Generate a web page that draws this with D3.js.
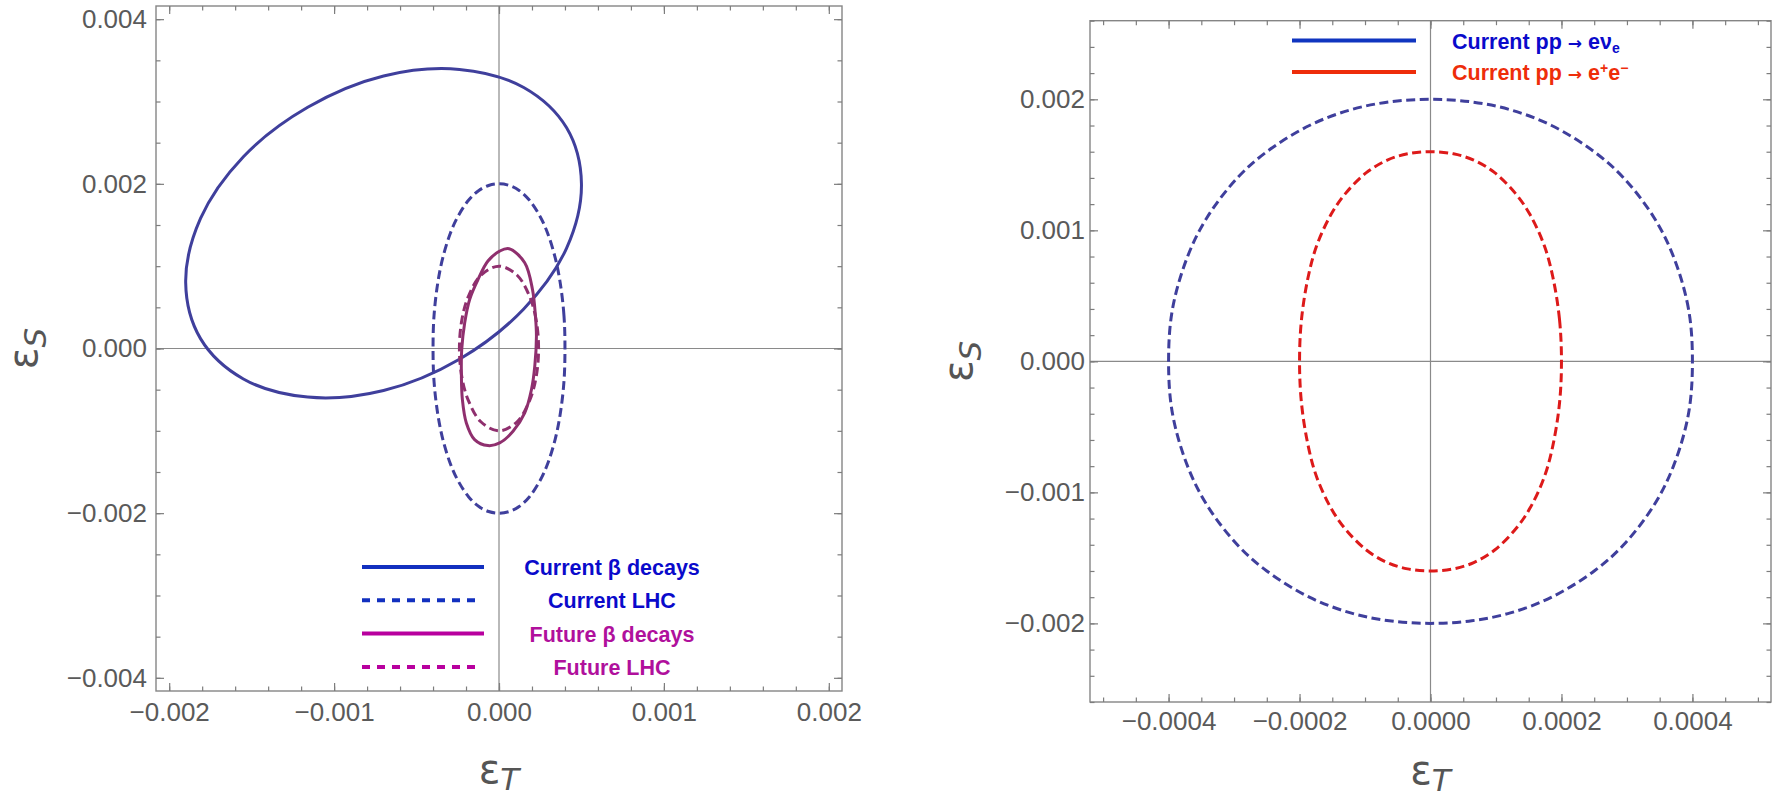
<!DOCTYPE html>
<html>
<head>
<meta charset="utf-8">
<script src="https://cdn.jsdelivr.net/npm/d3@7"></script>
<style>
  body { margin: 0; background: #fff; }
  svg { display: block; }
  .tick text { font-family: "Liberation Sans", Arial, sans-serif; font-size: 26px; fill: #5a5a5a; }
</style>
</head>
<body>
<script>
const W = 1781, H = 801;

// tick labels
const leftXTicks = [-0.002, -0.001, 0, 0.001, 0.002];
const leftYTicks = [-0.004, -0.002, 0, 0.002, 0.004];
const rightXTicks = [-0.0004, -0.0002, 0, 0.0002, 0.0004];
const rightYTicks = [-0.002, -0.001, 0, 0.001, 0.002];

// contours [eps_T, eps_S]
const betaCurrent = [
  [0.0005, 0.0020], [0.00041, 0.00268], [0.00015, 0.00317], [-0.00024, 0.00339],
  [-0.0007, 0.00331], [-0.00116, 0.00293], [-0.00155, 0.00233], [-0.00181, 0.00158],
  [-0.0019, 0.0008], [-0.00181, 0.00012], [-0.00155, -0.00037], [-0.00116, -0.00059],
  [-0.0007, -0.00051], [-0.00024, -0.00013], [0.00015, 0.00048], [0.00041, 0.00122]
];
const lhcCurrent = [
  [0.0004, 0], [0.000394, 0.0004], [0.000371, 0.0008], [0.000341, 0.0011],
  [0.000295, 0.0014], [0.00025, 0.0016], [0.000185, 0.0018], [0.000122, 0.00192],
  [0.000063, 0.00198], [0, 0.002],
  [-0.000063, 0.00198], [-0.000122, 0.00192], [-0.000185, 0.0018], [-0.00025, 0.0016],
  [-0.000295, 0.0014], [-0.000341, 0.0011], [-0.000371, 0.0008], [-0.000394, 0.0004],
  [-0.0004, 0],
  [-0.000394, -0.0004], [-0.000371, -0.0008], [-0.000341, -0.0011], [-0.000295, -0.0014],
  [-0.00025, -0.0016], [-0.000185, -0.0018], [-0.000122, -0.00192], [-0.000063, -0.00198],
  [0, -0.002],
  [0.000063, -0.00198], [0.000122, -0.00192], [0.000185, -0.0018], [0.00025, -0.0016],
  [0.000295, -0.0014], [0.000341, -0.0011], [0.000371, -0.0008], [0.000394, -0.0004]
];
const betaFuture = [
  [0.000061, 0.001212], [0.000156, 0.001042], [0.000203, 0.000717], [0.000221, 0.000393],
  [0.000227, 0.00015], [0.000217, -0.000215], [0.000197, -0.000498], [0.000156, -0.000782],
  [0.000085, -0.001005], [0.000004, -0.001147], [-0.000067, -0.001179], [-0.000148, -0.001106],
  [-0.000198, -0.000904], [-0.000222, -0.00062], [-0.000228, -0.000336], [-0.000226, -0.000012],
  [-0.000208, 0.000312], [-0.000178, 0.000596], [-0.000127, 0.000839], [-0.000067, 0.001062],
  [0.000004, 0.001183]
];
const lhcFuture = [
  [0.00024, 0], [0.000225, 0.00035], [0.000186, 0.00063], [0.00011, 0.00089],
  [0, 0.001], [-0.00011, 0.00089], [-0.000186, 0.00063], [-0.000225, 0.00035],
  [-0.00024, 0], [-0.000225, -0.00035], [-0.000186, -0.00063], [-0.00011, -0.00089],
  [0, -0.001], [0.00011, -0.00089], [0.000186, -0.00063], [0.000225, -0.00035]
];
const ppEE = [
  [0.0002, 0], [0.000197, 0.00032], [0.000187, 0.00064], [0.000174, 0.00088],
  [0.000152, 0.00112], [0.00013, 0.00128], [0.000098, 0.00144], [0.000066, 0.001536],
  [0.000035, 0.001584], [0, 0.0016],
  [-0.000035, 0.001584], [-0.000066, 0.001536], [-0.000098, 0.00144], [-0.00013, 0.00128],
  [-0.000152, 0.00112], [-0.000174, 0.00088], [-0.000187, 0.00064], [-0.000197, 0.00032],
  [-0.0002, 0],
  [-0.000197, -0.00032], [-0.000187, -0.00064], [-0.000174, -0.00088], [-0.000152, -0.00112],
  [-0.00013, -0.00128], [-0.000098, -0.00144], [-0.000066, -0.001536], [-0.000035, -0.001584],
  [0, -0.0016],
  [0.000035, -0.001584], [0.000066, -0.001536], [0.000098, -0.00144], [0.00013, -0.00128],
  [0.000152, -0.00112], [0.000174, -0.00088], [0.000187, -0.00064], [0.000197, -0.00032]
];

const leftLegend = ["Current β decays", "Current LHC", "Future β decays", "Future LHC"];

const svg = d3.select("body").append("svg").attr("width", W).attr("height", H);
svg.append("rect").attr("width", W).attr("height", H).attr("fill", "#fff");

function sideTicks(g, axisFn, scale, pos, values, size, fmt, pad) {
  const a = axisFn(scale).tickValues(values).tickSizeInner(-size).tickSizeOuter(0)
    .tickPadding(pad || 0).tickFormat(fmt ? d3.format(fmt) : "");
  const s = g.append("g").attr("transform", pos).call(a);
  s.select(".domain").remove();
  s.selectAll(".tick line").attr("stroke", "#7d7d7d").attr("stroke-width", 1.2);
  return s;
}

function panel(c) {
  const x = d3.scaleLinear().domain(c.xDomain).range([c.left, c.right]);
  const y = d3.scaleLinear().domain(c.yDomain).range([c.bottom, c.top]);
  const g = svg.append("g");

  // zero lines
  g.append("line").attr("x1", x(0)).attr("x2", x(0)).attr("y1", c.top).attr("y2", c.bottom)
    .attr("stroke", "#8a8a8a").attr("stroke-width", 1.2);
  g.append("line").attr("x1", c.left).attr("x2", c.right).attr("y1", y(0)).attr("y2", y(0))
    .attr("stroke", "#8a8a8a").attr("stroke-width", 1.2);

  const line = d3.line().x(d => x(d[0])).y(d => y(d[1])).curve(d3.curveCatmullRomClosed.alpha(0.5));
  c.curves.forEach(cv => {
    g.append("path").attr("d", line(cv.data)).attr("fill", "none")
      .attr("stroke", cv.color).attr("stroke-width", 3)
      .attr("stroke-dasharray", cv.dash ? "9,4.5" : null);
  });

  // frame
  g.append("rect").attr("x", c.left).attr("y", c.top)
    .attr("width", c.right - c.left).attr("height", c.bottom - c.top)
    .attr("fill", "none").attr("stroke", "#858585").attr("stroke-width", 1.4);

  // ticks on all four sides, pointing inward
  sideTicks(g, d3.axisBottom, x, `translate(0,${c.bottom})`, c.xMinor, 4.5);
  sideTicks(g, d3.axisBottom, x, `translate(0,${c.bottom})`, c.xTicks, 8, c.xFmt, c.xPad);
  sideTicks(g, d3.axisTop, x, `translate(0,${c.top})`, c.xMinor, 4.5);
  sideTicks(g, d3.axisTop, x, `translate(0,${c.top})`, c.xTicks, 8);
  sideTicks(g, d3.axisLeft, y, `translate(${c.left},0)`, c.yMinor, 4.5);
  sideTicks(g, d3.axisLeft, y, `translate(${c.left},0)`, c.yTicks, 8, c.yFmt, c.yPad);
  sideTicks(g, d3.axisRight, y, `translate(${c.right},0)`, c.yMinor, 4.5);
  sideTicks(g, d3.axisRight, y, `translate(${c.right},0)`, c.yTicks, 8);

  // axis titles
  const tx = g.append("text").attr("x", x(0)).attr("y", c.bottom + c.titleDown)
    .attr("text-anchor", "middle").attr("fill", "#555")
    .style("font-family", "'DejaVu Sans', sans-serif").style("font-size", "40px");
  tx.append("tspan").text("ε");
  tx.append("tspan").attr("dy", 7).style("font-size", "31px").style("font-style", "italic").text("T");

  const ty = g.append("text")
    .attr("transform", `translate(${c.ylabX},${y(0)}) rotate(-90)`)
    .attr("text-anchor", "middle").attr("fill", "#555")
    .style("font-family", "'DejaVu Sans', sans-serif").style("font-size", "40px");
  ty.append("tspan").text("ε");
  ty.append("tspan").attr("dy", 9).style("font-size", "31px").style("font-style", "italic").text("S");

  return {x, y, g};
}

const blue = "#3f3f9c", purple = "#8f2f6e", red = "#dd1a1a";

panel({
  left: 156, right: 842, top: 6, bottom: 691,
  xDomain: [-0.00208, 0.00208], yDomain: [-0.00416, 0.00416],
  xTicks: leftXTicks, yTicks: leftYTicks,
  xMinor: d3.range(-0.002, 0.00201, 0.0002), yMinor: d3.range(-0.004, 0.00401, 0.0005),
  xFmt: ".3f", yFmt: ".3f", xPad: 12, yPad: 9,
  titleDown: 92, ylabX: 37,
  curves: [
    {data: betaCurrent, color: blue},
    {data: lhcCurrent, color: blue, dash: true},
    {data: lhcFuture, color: purple, dash: true},
    {data: betaFuture, color: purple}
  ]
});

panel({
  left: 1090, right: 1771, top: 20.7, bottom: 702,
  xDomain: [-0.00052, 0.00052], yDomain: [-0.0026, 0.0026],
  xTicks: rightXTicks, yTicks: rightYTicks,
  xMinor: d3.range(-0.0005, 0.000501, 0.00005), yMinor: d3.range(-0.0026, 0.002601, 0.0002),
  xFmt: ".4f", yFmt: ".3f", xPad: 10, yPad: 5,
  titleDown: 82, ylabX: 972,
  curves: [
    {data: lhcCurrent, color: blue, dash: true},
    {data: ppEE, color: red, dash: true}
  ]
});

// left legend
const legFont = "'Liberation Sans', Arial, sans-serif";
const legStyle = [
  {color: "#1230bf", text: "#0a0acb", dash: false},
  {color: "#1230bf", text: "#0a0acb", dash: true},
  {color: "#b8009e", text: "#b0109c", dash: false},
  {color: "#b8009e", text: "#b0109c", dash: true}
];
const leg = svg.append("g");
leftLegend.forEach((label, i) => {
  const yb = 575 + i * 33.3;
  const st = legStyle[i];
  leg.append("line").attr("x1", 362).attr("x2", st.dash ? 480 : 484)
    .attr("y1", yb - 8).attr("y2", yb - 8)
    .attr("stroke", st.color).attr("stroke-width", 4)
    .attr("stroke-dasharray", st.dash ? "8,7" : null);
  leg.append("text").attr("x", 612).attr("y", yb).attr("text-anchor", "middle")
    .attr("fill", st.text).style("font-family", legFont).style("font-weight", "bold")
    .style("font-size", "21.5px").text(label);
});

// right legend
const rl = svg.append("g");
rl.append("line").attr("x1", 1292).attr("x2", 1416).attr("y1", 40.5).attr("y2", 40.5)
  .attr("stroke", "#1035c0").attr("stroke-width", 4);
rl.append("line").attr("x1", 1292).attr("x2", 1416).attr("y1", 72).attr("y2", 72)
  .attr("stroke", "#ee2d0a").attr("stroke-width", 4);

const t1 = rl.append("text").attr("x", 1452).attr("y", 48.5).attr("fill", "#0a0acb")
  .style("font-family", legFont).style("font-weight", "bold").style("font-size", "21.5px");
t1.append("tspan").text("Current pp ");
t1.append("tspan").style("font-family", "'DejaVu Sans', sans-serif").style("font-weight", "bold")
  .style("font-size", "17px").text("→");
t1.append("tspan").text(" eν");
t1.append("tspan").attr("dy", 4).style("font-size", "14px").text("e");

const t2 = rl.append("text").attr("x", 1452).attr("y", 80).attr("fill", "#ee2d0a")
  .style("font-family", legFont).style("font-weight", "bold").style("font-size", "21.5px");
t2.append("tspan").text("Current pp ");
t2.append("tspan").style("font-family", "'DejaVu Sans', sans-serif").style("font-weight", "bold")
  .style("font-size", "17px").text("→");
t2.append("tspan").text(" e");
t2.append("tspan").attr("dy", -7).style("font-size", "14px").text("+");
t2.append("tspan").attr("dy", 7).text("e");
t2.append("tspan").attr("dy", -7).style("font-size", "14px").text("−");
</script>
</body>
</html>
